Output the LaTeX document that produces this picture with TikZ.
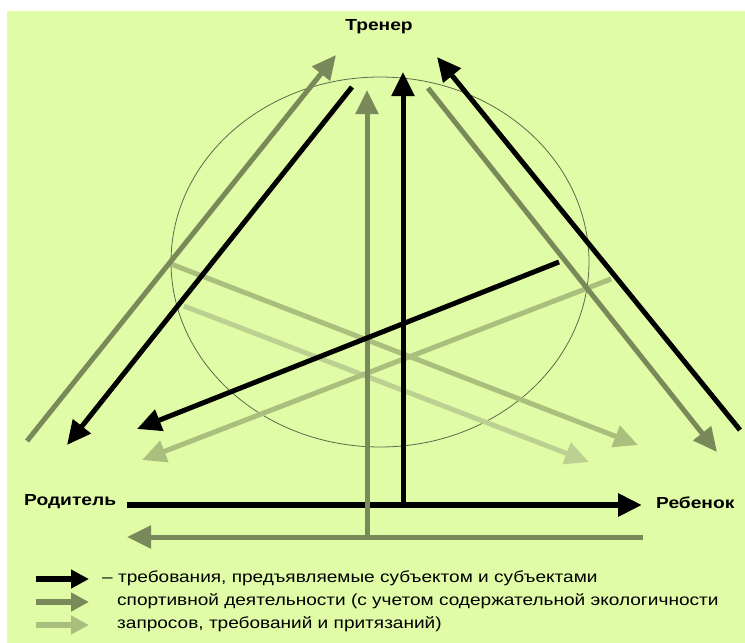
\documentclass[tikz,border=0pt]{standalone}
\usepackage{fontspec}
\setmainfont{Liberation Sans}
\usepackage{xcolor}
\usepackage{graphicx}
\usetikzlibrary{arrows.meta}

\definecolor{fond}{RGB}{224,252,166}
\definecolor{vertfonce}{RGB}{122,137,90}
\definecolor{vertclair}{RGB}{170,190,125}
\definecolor{vertpale}{RGB}{188,208,145}
\definecolor{trait}{RGB}{95,105,75}

\newcommand{\etire}[2][1.2]{\scalebox{#1}[1]{#2}}

\begin{document}
\begin{tikzpicture}[x=1pt, y=-1pt,
    fleche/.style={line width=5pt, -{Triangle[length=24pt,width=22pt]}},
    noire/.style={fleche, draw=black},
    foncee/.style={fleche, draw=vertfonce},
    claire/.style={fleche, draw=vertclair},
    pale/.style={fleche, draw=vertpale},
    petite/.style={line width=6pt, -{Triangle[length=18pt,width=18pt]}},
    etiquette/.style={font=\fontsize{16}{16}\selectfont\bfseries, inner sep=0pt},
    legende/.style={anchor=west, font=\fontsize{16}{16}\selectfont, inner sep=0pt}]

    \useasboundingbox (0,0) rectangle (745,643);
    \fill[fond] (7,11) rectangle (745,643);

    \draw[trait, line width=0.8pt] (380,262) ellipse [x radius=209, y radius=185];

    \node[etiquette] (trener) at (379,27) {\etire{Тренер}};
    \node[etiquette, anchor=west] (roditel) at (24,502) {\etire{Родитель}};
    \node[etiquette, anchor=west] (rebenok) at (656,503) {\etire{Ребенок}};

    % extremites des fleches
    \coordinate (h1) at (171,264);  \coordinate (h2) at (638,445);
    \coordinate (i1) at (184,306);  \coordinate (i2) at (589,462);
    \coordinate (j1) at (611,279);  \coordinate (j2) at (142,460);
    \coordinate (a1) at (27,441);   \coordinate (a2) at (336,55);
    \coordinate (c1) at (367,537);  \coordinate (c2) at (367,90);
    \coordinate (e1) at (428,88);   \coordinate (e2) at (717,452);
    \coordinate (l1) at (643,537);  \coordinate (l2) at (127,537);
    \coordinate (b1) at (352,87);   \coordinate (b2) at (67,445);
    \coordinate (d1) at (403,505);  \coordinate (d2) at (403,72);
    \coordinate (f1) at (740,430);  \coordinate (f2) at (437,57);
    \coordinate (g1) at (559,262);  \coordinate (g2) at (137,429);
    \coordinate (k1) at (127,505);  \coordinate (k2) at (642,505);

    \draw[claire] (h1) -- (h2);
    \draw[pale] (i1) -- (i2);
    \draw[claire] (j1) -- (j2);
    \draw[noire, line width=6pt] (k1) -- (k2);
    \draw[foncee] (a1) -- (a2);
    \draw[foncee] (e1) -- (e2);
    \draw[foncee] (l1) -- (l2);
    \draw[foncee] (c1) -- (c2);
    \draw[noire] (b1) -- (b2);
    \draw[noire] (d1) -- (d2);
    \draw[noire] (f1) -- (f2);
    \draw[noire] (g1) -- (g2);

    % legende
    \coordinate (m1) at (36,579);  \coordinate (m2) at (89,579);
    \coordinate (n1) at (36,602);  \coordinate (n2) at (89,602);
    \coordinate (o1) at (36,625);  \coordinate (o2) at (89,625);
    \draw[petite, draw=black] (m1) -- (m2);
    \draw[petite, draw=vertfonce] (n1) -- (n2);
    \draw[petite, draw=vertclair] (o1) -- (o2);

    \node[legende] (leg1) at (102,578) {\etire[1.19]{– требования, предъявляемые субъектом и субъектами}};
    \node[legende] (leg2) at (117,601) {\etire[1.19]{спортивной деятельности (с учетом содержательной экологичности}};
    \node[legende] (leg3) at (117,624) {\etire[1.19]{запросов, требований и притязаний)}};
\end{tikzpicture}
\end{document}
